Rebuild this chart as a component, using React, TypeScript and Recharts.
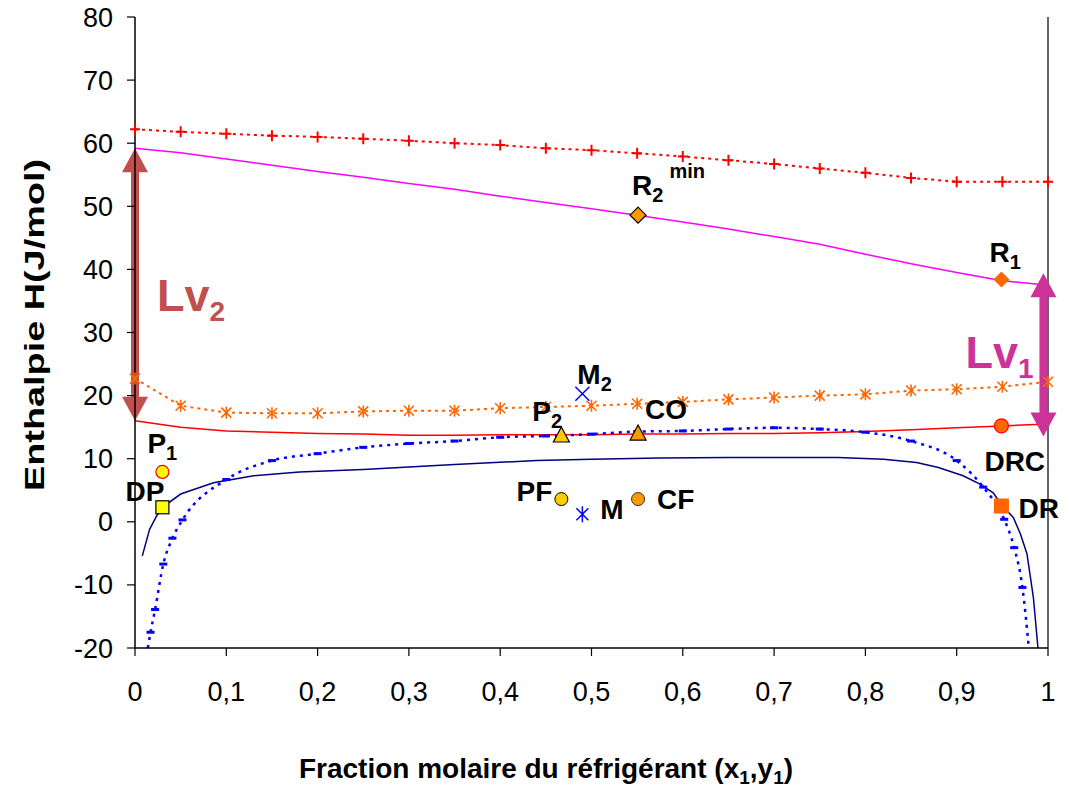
import React from 'react';
import { ComposedChart, Line, Scatter, XAxis, YAxis, ReferenceLine } from 'recharts';

const FONT = "'Liberation Sans', Arial, Helvetica, sans-serif";

// Axis ticks
const X_TICKS = [0, 0.1, 0.2, 0.3, 0.4, 0.5, 0.6, 0.7, 0.8, 0.9, 1];
const Y_TICKS = [-20, -10, 0, 10, 20, 30, 40, 50, 60, 70, 80];

// Common composition grid
const xGrid = [0, 0.05, 0.1, 0.15, 0.2, 0.25, 0.3, 0.35, 0.4, 0.45, 0.5, 0.55, 0.6, 0.65, 0.7, 0.75, 0.8, 0.85, 0.9, 0.95, 1];
// Red dotted with + markers
const vaporHigh = [62.2, 61.8, 61.5, 61.2, 61.0, 60.7, 60.4, 60.0, 59.7, 59.2, 58.9, 58.4, 57.9, 57.3, 56.7, 56.0, 55.3, 54.5, 53.9, 53.9, 53.9];
// Magenta solid
const vaporSat = [59.2, 58.5, 57.5, 56.5, 55.5, 54.6, 53.6, 52.7, 51.6, 50.6, 49.6, 48.6, 47.5, 46.4, 45.2, 44.0, 42.4, 40.9, 39.5, 38.2, 37.5];
// Orange dotted with star markers
const vaporLow = [22.7, 18.4, 17.3, 17.2, 17.2, 17.5, 17.6, 17.6, 18.0, 18.2, 18.4, 18.7, 19.0, 19.4, 19.7, 20.0, 20.2, 20.8, 21.0, 21.4, 22.2];
// Red solid
const liquidHigh = [16.0, 15.0, 14.4, 14.2, 14.0, 13.9, 13.7, 13.7, 13.8, 13.8, 13.8, 13.9, 13.9, 14.0, 14.0, 14.1, 14.3, 14.6, 14.9, 15.2, 15.5];

// Navy solid
const navyX = [0.008, 0.016, 0.024, 0.03, 0.05, 0.086, 0.13, 0.18, 0.25, 0.3, 0.35, 0.44, 0.5, 0.575, 0.65, 0.77, 0.82, 0.856, 0.88, 0.907, 0.925, 0.94, 0.95, 0.962, 0.97, 0.977, 0.984, 0.989];
const navyY = [-5.4, -1.2, 1.0, 2.3, 4.4, 6.2, 7.3, 7.9, 8.3, 8.7, 9.1, 9.7, 9.9, 10.1, 10.2, 10.2, 9.9, 9.4, 8.6, 7.3, 6.0, 4.6, 2.5, 0.7, -2.0, -5.1, -12.0, -20.0];

// Blue dotted
const blueX = [0.014, 0.017, 0.022, 0.031, 0.041, 0.052, 0.1, 0.15, 0.2, 0.25, 0.3, 0.35, 0.4, 0.45, 0.5, 0.55, 0.6, 0.65, 0.7, 0.75, 0.8, 0.85, 0.9, 0.929, 0.952, 0.963, 0.972, 0.979];
const blueY = [-20, -17.5, -13.9, -6.7, -2.6, 0.3, 6.7, 9.7, 10.8, 11.8, 12.4, 12.8, 13.4, 13.6, 13.9, 14.3, 14.4, 14.7, 14.9, 14.7, 14.2, 12.8, 9.7, 5.5, 0.4, -4.1, -10.4, -20];

// Named points
const pointNames = ['P1', 'DP', 'P2', 'CO', 'M2', 'PF', 'M', 'CF', 'R2min', 'R1', 'DRC', 'DR'];
const pointX = [0.03, 0.03, 0.467, 0.551, 0.49, 0.467, 0.49, 0.551, 0.551, 0.949, 0.949, 0.949];
const pointY = [7.9, 2.3, 13.6, 13.9, 20.3, 3.6, 1.2, 3.6, 48.6, 38.4, 15.2, 2.5];

// Latent heat arrows
const lvNames = ['Lv2', 'Lv1'];
const lvX = [0, 0.995];
const lvLow = [16.0, 13.5];
const lvHigh = [59.2, 39.4];

const toXY = (xs: number[], ys: number[]) => xs.map((x, i) => ({ x, y: ys[i] }));
const gridData = (ys: number[]) => toXY(xGrid, ys);
const pointsData = pointNames.map((name, i) => ({ name, x: pointX[i], y: pointY[i] }));

const fmtX = (v: number) => String(v).replace('.', ',');

const plusDot = (p: any) => {
  const { cx, cy, index } = p;
  if (cx == null || cy == null) return <g key={`pl${index}`} />;
  return <path key={`pl${index}`} d={`M${cx - 5},${cy}h10M${cx},${cy - 5.5}v11`} stroke="#FF0000" strokeWidth={2} fill="none" />;
};
const starDot = (p: any) => {
  const { cx, cy, index } = p;
  if (cx == null || cy == null) return <g key={`st${index}`} />;
  return (
    <path key={`st${index}`} d={`M${cx - 5},${cy - 5}L${cx + 5},${cy + 5}M${cx - 5},${cy + 5}L${cx + 5},${cy - 5}M${cx},${cy - 6}v12`}
      stroke="#FF6600" strokeWidth={1.6} fill="none" />
  );
};
const dashDot = (p: any) => {
  const { cx, cy, index, payload } = p;
  if (cx == null || cy == null || (payload && payload.y <= -20)) return <g key={`ds${index}`} />;
  return <rect key={`ds${index}`} x={cx - 4} y={cy - 1.5} width={8} height={3} fill="#0000FF" />;
};

type LabelSpec = { main: string; sub?: string; sup?: string; dx: number; dy: number; anchor?: 'start' | 'end' };
const LABELS: Record<string, LabelSpec> = {
  P1: { main: 'P', sub: '1', dx: -15, dy: -19 },
  DP: { main: 'DP', dx: 2, dy: -6, anchor: 'end' },
  P2: { main: 'P', sub: '2', dx: -29, dy: -15 },
  CO: { main: 'CO', dx: 7, dy: -15 },
  M2: { main: 'M', sub: '2', dx: -5, dy: -10 },
  PF: { main: 'PF', dx: -9, dy: 2, anchor: 'end' },
  M: { main: 'M', dx: 18, dy: 5 },
  CF: { main: 'CF', dx: 19, dy: 10 },
  R2min: { main: 'R', sub: '2', sup: 'min', dx: -6, dy: -20 },
  R1: { main: 'R', sub: '1', dx: -12, dy: -17 },
  DRC: { main: 'DRC', dx: -17, dy: 45 },
  DR: { main: 'DR', dx: 17, dy: 12 },
};

const marker = (name: string, cx: number, cy: number) => {
  switch (name) {
    case 'P1':
      return <circle cx={cx} cy={cy} r={6.5} fill="#FFFF00" stroke="#FF0000" strokeWidth={1.2} />;
    case 'DP':
      return <rect x={cx - 6.5} y={cy - 6.5} width={13} height={13} fill="#FFFF00" stroke="#000" strokeWidth={1.2} />;
    case 'P2':
      return <path d={`M${cx},${cy - 9}L${cx + 8},${cy + 6}L${cx - 8},${cy + 6}Z`} fill="#FFCC00" stroke="#000" strokeWidth={1.2} />;
    case 'CO':
      return <path d={`M${cx},${cy - 9}L${cx + 8},${cy + 6}L${cx - 8},${cy + 6}Z`} fill="#FF9900" stroke="#000" strokeWidth={1.2} />;
    case 'M2':
      return <path d={`M${cx - 7},${cy - 7}L${cx + 7},${cy + 7}M${cx - 7},${cy + 7}L${cx + 7},${cy - 7}`} stroke="#0000FF" strokeWidth={1.5} />;
    case 'PF':
      return <circle cx={cx} cy={cy} r={6.5} fill="#FFCC00" stroke="#000" strokeWidth={1} />;
    case 'M':
      return <path d={`M${cx - 6},${cy - 6}L${cx + 6},${cy + 6}M${cx - 6},${cy + 6}L${cx + 6},${cy - 6}M${cx},${cy - 8}v16`} stroke="#0000FF" strokeWidth={1.5} />;
    case 'CF':
      return <circle cx={cx} cy={cy} r={6.5} fill="#FF9900" stroke="#333" strokeWidth={1} />;
    case 'R2min':
      return <path d={`M${cx},${cy - 8}L${cx + 8},${cy}L${cx},${cy + 8}L${cx - 8},${cy}Z`} fill="#FF9900" stroke="#000" strokeWidth={1.2} />;
    case 'R1':
      return <path d={`M${cx},${cy - 8}L${cx + 8},${cy}L${cx},${cy + 8}L${cx - 8},${cy}Z`} fill="#FF6600" />;
    case 'DRC':
      return <circle cx={cx} cy={cy} r={7} fill="#FF6600" stroke="#FF0000" strokeWidth={1.2} />;
    case 'DR':
      return <rect x={cx - 7.5} y={cy - 7.5} width={15} height={15} fill="#FF6600" />;
    default:
      return null;
  }
};

const pointShape = (p: any) => {
  const { cx, cy, payload } = p;
  const name = payload.name as string;
  const L = LABELS[name];
  return (
    <g>
      {marker(name, cx, cy)}
      <text x={cx + L.dx} y={cy + L.dy} textAnchor={L.anchor || 'start'} fontFamily={FONT} fontWeight="bold" fontSize={28} fill="#000">
        {L.main}
        {L.sub ? <tspan fontSize={20} dy={7}>{L.sub}</tspan> : null}
        {L.sup ? <tspan fontSize={20} dy={-24} dx={6}>{L.sup}</tspan> : null}
      </text>
    </g>
  );
};

const ARROW_STYLE: Record<string, { color: string; sub: string; tx: number; tyFromBottom: number }> = {
  Lv2: { color: '#C0504D', sub: '2', tx: 22, tyFromBottom: -110 },
  Lv1: { color: '#CC3399', sub: '1', tx: -78, tyFromBottom: -69 },
};

const arrowShape = (name: string) => (p: any) => {
  const { x1, y1, x2, y2 } = p;
  const st = ARROW_STYLE[name];
  const x = (x1 + x2) / 2;
  const top = Math.min(y1, y2);
  const bot = Math.max(y1, y2);
  const hw = 13, hl = 24, sw = 4;
  const d = `M${x},${top}L${x + hw},${top + hl}L${x + sw},${top + hl}L${x + sw},${bot - hl}L${x + hw},${bot - hl}L${x},${bot}L${x - hw},${bot - hl}L${x - sw},${bot - hl}L${x - sw},${top + hl}L${x - hw},${top + hl}Z`;
  return (
    <g>
      <path d={d} fill={st.color} />
      <text x={x + st.tx} y={bot + st.tyFromBottom} fontFamily={FONT} fontWeight="bold" fontSize={45} fill={st.color}>
        Lv<tspan fontSize={28} dy={10}>{st.sub}</tspan>
      </text>
    </g>
  );
};

const XTitle = () => (
  <text x={546} y={778} textAnchor="middle" fontFamily={FONT} fontWeight="bold" fontSize={28} fill="#000">
    Fraction molaire du réfrigérant (x<tspan fontSize={19} dy={6}>1</tspan><tspan dy={-6}>,y</tspan><tspan fontSize={19} dy={6}>1</tspan><tspan dy={-6}>)</tspan>
  </text>
);

const YTitle = () => (
  <text x={0} y={0} transform="translate(44,325) rotate(-90)" textAnchor="middle" fontFamily={FONT} fontWeight="bold" fontSize={28}
    textLength={332} lengthAdjust="spacingAndGlyphs" fill="#000">
    Enthalpie H(J/mol)
  </text>
);

export default function App() {
  return (
    <div style={{ position: 'absolute', left: 0, top: 0, width: 1070, height: 790, background: '#fff' }}>
      <ComposedChart width={1070} height={790} margin={{ top: 17, right: 22, left: 20, bottom: 42 }}>
        <XAxis
          dataKey="x"
          type="number"
          domain={[0, 1]}
          ticks={X_TICKS}
          tickFormatter={fmtX}
          height={100}
          tickSize={8}
          tickMargin={26}
          axisLine={{ stroke: '#000', strokeWidth: 1.5 }}
          tickLine={{ stroke: '#000', strokeWidth: 1.2 }}
          tick={{ fill: '#000', fontSize: 27, fontFamily: FONT }}
          label={<XTitle />}
        />
        <YAxis
          dataKey="y"
          type="number"
          domain={[-20, 80]}
          ticks={Y_TICKS}
          width={115}
          tickSize={8}
          tickMargin={14}
          axisLine={{ stroke: '#000', strokeWidth: 1.5 }}
          tickLine={{ stroke: '#000', strokeWidth: 1.2 }}
          tick={{ fill: '#000', fontSize: 27, fontFamily: FONT }}
          label={<YTitle />}
        />
        <ReferenceLine x={1} stroke="#333" strokeWidth={1.5} />

        <Line data={gridData(vaporHigh)} dataKey="y" type="linear" stroke="#FF0000" strokeWidth={2} strokeDasharray="3 4" dot={plusDot} isAnimationActive={false} />
        <Line data={gridData(vaporSat)} dataKey="y" type="linear" stroke="#FF00FF" strokeWidth={1.5} dot={false} isAnimationActive={false} />
        <Line data={gridData(vaporLow)} dataKey="y" type="linear" stroke="#FF6600" strokeWidth={2} strokeDasharray="3 4" dot={starDot} isAnimationActive={false} />
        <Line data={gridData(liquidHigh)} dataKey="y" type="linear" stroke="#FF0000" strokeWidth={1.5} dot={false} isAnimationActive={false} />
        <Line data={toXY(navyX, navyY)} dataKey="y" type="linear" stroke="#000080" strokeWidth={1.5} dot={false} isAnimationActive={false} />
        <Line data={toXY(blueX, blueY)} dataKey="y" type="monotone" stroke="#0000FF" strokeWidth={2.5} strokeDasharray="3 5" dot={dashDot} isAnimationActive={false} />

        {lvNames.map((n, i) => (
          <ReferenceLine
            key={n}
            segment={[{ x: lvX[i], y: lvLow[i] }, { x: lvX[i], y: lvHigh[i] }]}
            ifOverflow="visible"
            shape={arrowShape(n)}
          />
        ))}

        <Scatter data={pointsData} dataKey="y" shape={pointShape} isAnimationActive={false} />
      </ComposedChart>
    </div>
  );
}
